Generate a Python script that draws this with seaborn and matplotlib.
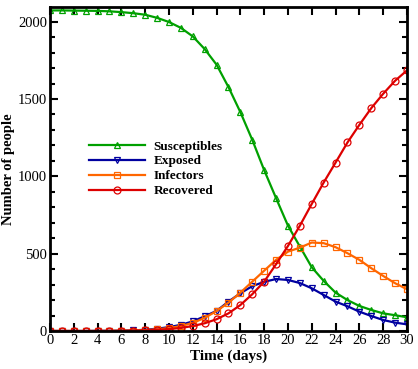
import numpy as np
import pandas as pd
import matplotlib
matplotlib.use("Agg")
import matplotlib.pyplot as plt
import seaborn as sns
from matplotlib.ticker import MultipleLocator

# ==========================
# DATA
# ==========================

days = list(range(31))

susceptibles = [2073, 2073, 2072, 2071, 2070, 2067, 2062, 2055, 2045, 2025,
                1998, 1960, 1905, 1823, 1722, 1577, 1415, 1236, 1040, 859,
                681, 546, 412, 324, 248, 200, 162, 136, 114, 102, 89]

exposed = [0, 0, 0, 0, 1, 1, 2, 4, 8, 15,
           25, 40, 62, 95, 130, 190, 244, 290, 318, 336,
           330, 310, 276, 233, 190, 160, 125, 97, 71, 54, 43]

infectors = [0, 0, 0, 0, 0, 1, 2, 3, 6, 11,
             19, 32, 52, 85, 129, 183, 248, 319, 390, 460,
             513, 539, 572, 568, 542, 503, 460, 406, 356, 309, 270]

recovered = [0, 0, 0, 0, 0, 0, 1, 2, 4, 7,
             12, 20, 32, 50, 76, 114, 168, 238, 319, 432,
             550, 681, 822, 960, 1089, 1219, 1333, 1441, 1534, 1618, 1685]

series_names = ["Susceptibles", "Exposed", "Infectors", "Recovered"]
series_values = [susceptibles, exposed, infectors, recovered]

colors = ["#00a000", "#0000a0", "#ff6600", "#dd0000"]
markers = ["^", "v", "s", "o"]

# ==========================
# FIGURE
# ==========================

plt.rcParams["font.family"] = ["Liberation Serif", "DejaVu Serif"]
plt.rcParams["xtick.direction"] = "in"
plt.rcParams["ytick.direction"] = "in"

fig = plt.figure(figsize=(4.18, 3.69), dpi=100)
ax = fig.add_axes([0.1196, 0.103, 0.854, 0.878])

for name, vals, c, m in zip(series_names, series_values, colors, markers):
    sns.lineplot(
        x=days, y=vals, ax=ax,
        color=c, marker=m, markersize=5,
        markerfacecolor="none", markeredgecolor=c, markeredgewidth=0.9,
        linewidth=1.6, label=name
    )

ax.set_xlim(0, 30)
ax.set_ylim(0, 2095)
ax.xaxis.set_major_locator(MultipleLocator(2))
ax.yaxis.set_major_locator(MultipleLocator(500))
ax.yaxis.set_minor_locator(MultipleLocator(100))

ax.tick_params(which="both", direction="in", top=True, right=True,
               bottom=True, left=True, colors="black", width=1.5)
ax.tick_params(which="major", length=6, labelsize=10.5, pad=2)
ax.tick_params(which="minor", length=3.5)

for s in ax.spines.values():
    s.set_linewidth(2)
    s.set_color("black")

ax.set_xlabel("Time (days)", fontsize=11, fontweight="bold", labelpad=2)
ax.set_ylabel("Number of people", fontsize=10.5, fontweight="bold", labelpad=2)

leg = ax.legend(
    loc="upper left", bbox_to_anchor=(0.075, 0.625),
    frameon=False, handlelength=4.3, handletextpad=0.6,
    labelspacing=0.2, prop={"weight": "bold", "size": 9.5}
)

plt.savefig("out.png", dpi=100)
plt.close()
